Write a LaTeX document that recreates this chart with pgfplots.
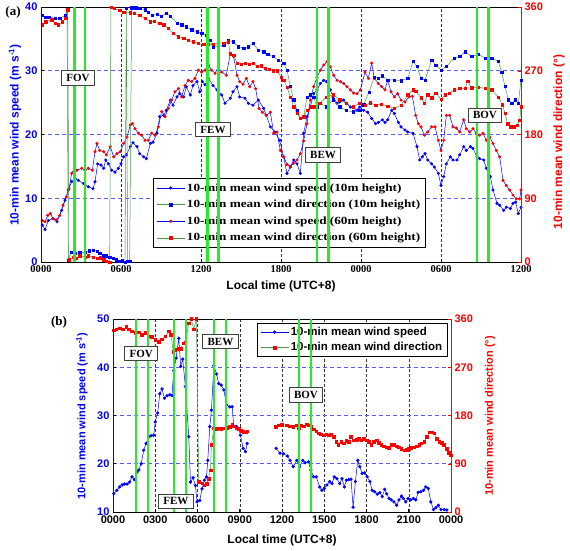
\documentclass[border=0pt]{standalone}
\usepackage{pgfplots}
\pgfplotsset{compat=1.18}
\usepackage{fontspec}
\setmainfont{Liberation Serif}
\setsansfont{Liberation Sans}
\definecolor{gline}{RGB}{70,150,70}
\definecolor{bgreen}{RGB}{40,235,40}
\definecolor{gridblue}{RGB}{90,90,255}
\newcommand{\myfs}[1]{\fontsize{#1}{#1}\selectfont}
\tikzset{lbl/.style={draw=black!75, line width=0.9pt, fill=white, inner xsep=5pt, inner ysep=3.5pt, font=\rmfamily\bfseries\myfs{11}}}
\pgfplotsset{
  spd/.style={blue, line width=0.5pt, mark=*, mark size=1.3pt, mark options={solid, fill=blue, draw=blue}},
  spdR/.style={blue, line width=0.5pt, mark=*, mark size=1.3pt, mark options={solid, fill=red, draw=red}},
  dirB/.style={gline, line width=0.5pt, mark=square*, mark size=1.15pt, mark options={solid, fill=blue, draw=blue}},
  dirR/.style={gline, line width=0.5pt, mark=square*, mark size=1.15pt, mark options={solid, fill=red, draw=red}},
  evt/.style={bgreen, line width=2.6pt, forget plot},
  pa/.style={at={(41pt,288pt)}, anchor=south west, width=480pt, height=255pt, scale only axis, xmin=0, xmax=36},
  pb/.style={at={(113pt,38pt)}, anchor=south west, width=338pt, height=193pt, scale only axis, xmin=0, xmax=24},
}
\begin{document}
\begin{tikzpicture}[x=1pt,y=1pt]
\useasboundingbox (0,0) rectangle (570,550);
%================ PANEL A =================
\begin{axis}[pa, ymin=0, ymax=40,
  xtick={0,6,...,36}, xticklabels={0000,0600,1200,1800,0000,0600,1200},
  ytick={0,10,20,30,40}, yticklabels={0,10,20,30,40},
  xtick pos=left, ytick pos=left, tick align=inside, major tick length=3pt,
  xticklabel style={font=\rmfamily\bfseries\myfs{10.5}, black},
  yticklabel style={font=\sffamily\bfseries\myfs{11}, blue},
  xmajorgrids, ymajorgrids,
  major x grid style={black!80, dash pattern=on 3pt off 2pt, line width=0.5pt},
  major y grid style={gridblue, dash pattern=on 4pt off 3pt, line width=0.6pt},
  axis line style={black, line width=0.8pt}, tick style={black, line width=0.6pt},
]
\addplot[spd] coordinates {(0.1,5.8)(0.3,5.1)(0.55,6.5)(0.9,6.8)(1.2,6.3)(1.55,8.1)(1.8,9.7)(2.05,11.3)(2.3,12.6)(2.55,13.1)(2.8,12.8)(3.2,12.3)(3.55,11.8)(3.9,11.5)(4.05,12.6)(4.25,15.4)(4.5,15.2)(4.7,14.7)(4.85,16.0)(5.05,15.4)(5.3,14.4)(5.55,14.1)(5.8,14.7)(6.0,15.4)(6.2,16.5)(6.4,16.8)(6.7,18.1)(6.9,18.7)(7.2,18.1)(7.4,17.0)(7.7,16.5)(7.9,16.2)(8.2,18.6)(8.4,18.8)(8.7,20.2)(8.9,22.8)(9.2,23.0)(9.4,23.8)(9.7,25.4)(9.9,24.6)(10.2,25.9)(10.4,26.4)(10.7,25.9)(10.9,27.5)(11.2,26.2)(11.4,27.7)(11.7,28.3)(11.9,26.7)(12.1,28.3)(12.3,27.8)(12.55,28.8)(12.9,27.7)(13.2,27.0)(13.55,26.2)(13.8,24.9)(14.2,25.7)(14.4,26.7)(14.7,27.5)(14.9,25.9)(15.3,25.7)(15.55,24.9)(15.9,24.6)(16.3,25.4)(16.7,24.1)(16.9,23.0)(17.2,21.2)(17.55,20.4)(17.9,19.1)(18.2,16.5)(18.45,13.9)(18.7,14.9)(18.95,16.0)(19.2,15.4)(19.45,13.9)(19.7,20.2)(19.95,22.8)(20.2,24.3)(20.45,26.4)(20.7,27.0)(20.95,28.0)(21.2,28.5)(21.4,28.3)(21.7,27.0)(21.9,25.9)(22.2,24.9)(22.4,25.1)(22.7,25.4)(22.9,24.9)(23.2,24.3)(23.4,24.3)(23.7,23.8)(23.9,24.3)(24.2,23.8)(24.5,23.5)(24.8,22.5)(25.1,21.7)(25.3,21.9)(25.6,22.3)(25.8,21.9)(26.0,22.3)(26.3,23.8)(26.5,23.3)(26.8,21.9)(27.0,21.2)(27.3,20.7)(27.5,20.4)(27.9,20.2)(28.2,18.1)(28.4,16.0)(28.6,16.5)(28.8,17.0)(29.0,16.0)(29.3,15.4)(29.5,14.9)(29.8,13.9)(30.0,12.0)(30.2,13.4)(30.4,15.4)(30.7,16.5)(30.9,16.0)(31.2,16.0)(31.4,16.8)(31.7,18.1)(31.9,17.5)(32.2,18.1)(32.4,17.8)(32.7,16.5)(32.9,16.2)(33.2,16.0)(33.4,14.7)(33.7,13.4)(33.9,11.3)(34.2,9.2)(34.4,8.9)(34.7,8.1)(34.9,8.6)(35.2,8.4)(35.4,9.2)(35.6,9.4)(35.8,7.6)(36.0,8.6)};
\addplot[spdR] coordinates {(0.1,6.5)(0.3,6.3)(0.5,7.3)(0.7,7.6)(0.9,6.8)(1.15,6.6)(1.4,7.3)(1.65,8.9)(1.9,10.2)(2.1,11.5)(2.3,13.9)(2.5,14.7)(2.7,14.4)(3.05,14.7)(3.3,14.4)(3.55,14.7)(3.85,14.4)(4.05,17.3)(4.2,18.6)(4.4,17.5)(4.7,17.3)(4.9,16.8)(5.2,18.1)(5.45,16.5)(5.7,17.0)(5.95,17.3)(6.2,18.6)(6.45,19.6)(6.7,21.5)(6.85,21.7)(7.05,20.9)(7.3,20.2)(7.55,19.9)(7.8,19.1)(8.05,19.1)(8.3,20.2)(8.55,19.9)(8.8,21.2)(9.05,23.6)(9.3,22.8)(9.55,24.1)(9.8,25.4)(10.05,26.7)(10.3,27.2)(10.55,25.9)(10.8,27.7)(11.05,28.5)(11.3,28.3)(11.55,28.8)(11.8,30.1)(12.05,29.8)(12.3,30.1)(12.55,30.9)(12.8,30.1)(13.05,29.6)(13.3,30.6)(13.55,29.8)(13.9,29.3)(14.2,32.7)(14.45,32.2)(14.7,29.3)(14.9,28.3)(15.15,27.9)(15.4,28.8)(15.65,27.5)(15.9,28.3)(16.1,27.2)(16.35,24.1)(16.6,23.5)(16.9,23.0)(17.2,23.5)(17.45,20.2)(17.7,20.4)(17.95,17.5)(18.2,16.5)(18.45,15.3)(18.7,15.0)(18.95,15.5)(19.2,16.0)(19.45,17.0)(19.7,19.0)(19.95,21.7)(20.2,25.4)(20.45,27.5)(20.7,29.0)(20.95,30.1)(21.2,30.9)(21.45,31.4)(21.7,30.6)(21.95,29.3)(22.2,28.5)(22.45,28.3)(22.7,28.0)(22.95,27.5)(23.2,27.0)(23.45,26.5)(23.7,26.4)(23.95,27.0)(24.3,29.8)(24.55,28.8)(24.8,31.2)(25.0,28.8)(25.3,28.0)(25.55,27.5)(25.8,27.0)(26.0,28.5)(26.25,26.7)(26.5,25.9)(26.75,26.4)(27.0,25.4)(27.3,25.1)(27.6,25.9)(27.85,26.0)(28.1,23.0)(28.3,21.7)(28.5,21.2)(28.75,19.9)(29.0,20.4)(29.3,21.2)(29.55,21.2)(29.8,19.1)(30.0,17.5)(30.2,19.1)(30.4,23.0)(30.65,23.0)(30.9,21.2)(31.15,21.0)(31.4,20.4)(31.7,22.3)(31.9,20.9)(32.15,20.4)(32.4,20.9)(32.65,20.2)(32.9,19.9)(33.15,20.2)(33.4,19.1)(33.65,19.6)(33.9,18.6)(34.15,17.5)(34.4,16.5)(34.65,12.8)(34.9,12.0)(35.15,11.3)(35.4,10.5)(35.65,9.9)(35.9,9.9)(36.0,11.3)};
\end{axis}
\begin{axis}[pa, ymin=0, ymax=360, axis y line*=right, axis x line=none,
  ytick={0,90,180,270,360}, yticklabels={0,90,180,270,360},
  tick align=inside, major tick length=3pt,
  yticklabel style={font=\sffamily\bfseries\myfs{11}, red},
  y axis line style={red, line width=1pt}, ytick style={red},
  legend cell align=left,
  legend style={at={(axis cs:8.4,20)}, anchor=south west, draw=black, line width=0.8pt, fill=white, font=\rmfamily\bfseries\myfs{11}\addfontfeatures{FakeStretch=1.2}, row sep=3.5pt, inner xsep=3pt, inner ysep=3pt},
  legend image code/.code={\draw[mark repeat=2,mark phase=2,#1] plot coordinates {(0pt,0pt) (14pt,0pt) (28pt,0pt)};},
]
\addlegendimage{spd}\addlegendentry{10-min mean wind speed (10m height)}
\addplot[dirB] coordinates {(0.1,348)(0.35,346)(0.6,346)(1.05,344)(1.4,344)(1.8,348)(1.95,355)(2.05,2)(2.25,14)(2.55,12)(2.9,13)(3.3,14)(3.6,16)(3.9,17)(4.2,15)(4.4,12)(4.65,9)(4.9,9)(5.15,7)(5.4,5)(5.65,3)(5.9,1)(6.1,2)(6.3,0)(6.4,358)(6.5,1)(6.65,1)(6.8,359)(7.1,359)(7.4,358)(7.8,356)(8.05,353)(8.35,348)(8.7,350)(9.0,347)(9.4,351)(9.7,347)(10.2,337)(10.55,335)(10.9,332)(11.3,328)(11.7,325)(12.05,323)(12.4,320)(12.65,313)(12.9,304)(13.3,304)(13.7,306)(14.05,313)(14.4,311)(14.8,304)(15.2,302)(15.55,304)(15.9,309)(16.3,299)(16.7,297)(17.0,293)(17.4,290)(17.8,285)(18.2,281)(18.45,271)(18.7,248)(18.95,229)(19.2,214)(19.45,203)(19.7,205)(19.95,233)(20.2,236)(20.45,233)(20.7,219)(20.95,224)(21.4,219)(21.9,229)(22.4,219)(22.9,214)(23.4,212)(23.9,214)(24.2,222)(24.6,240)(25.0,261)(25.3,259)(25.6,263)(26.0,257)(26.5,257)(27.0,256)(27.5,259)(27.9,283)(28.2,276)(28.5,259)(28.8,257)(29.3,285)(29.6,278)(30.0,271)(30.4,276)(31.0,288)(31.4,290)(31.8,297)(32.3,290)(32.8,293)(33.3,288)(33.8,288)(34.3,283)(34.55,268)(34.8,248)(35.05,229)(35.3,224)(35.55,229)(35.8,224)(36.0,257)};
\addlegendentry{10-min mean wind direction (10m height)}
\addlegendimage{spdR}\addlegendentry{10-min mean wind speed (60m height)}
\addplot[dirR] coordinates {(0.1,335)(0.35,339)(0.8,342)(1.05,337)(1.3,335)(1.6,339)(1.85,344)(2.0,356)(2.1,3)(2.4,7)(2.65,5)(2.9,9)(3.3,7)(3.55,9)(3.9,7)(4.2,5)(4.45,6)(4.7,3)(4.9,1)(5.15,0)(5.25,360)(5.5,358)(5.9,355)(6.2,353)(6.7,352)(7.0,351)(7.4,348)(7.8,344)(8.2,339)(8.5,340)(8.9,337)(9.2,335)(9.55,330)(9.9,323)(10.3,318)(10.7,316)(11.05,313)(11.4,311)(11.8,309)(12.2,307)(12.55,307)(12.9,307)(13.3,309)(13.7,309)(14.05,311)(14.2,294)(14.45,292)(14.7,281)(15.0,279)(15.3,281)(15.6,279)(15.9,281)(16.2,276)(16.5,277)(16.8,274)(17.1,272)(17.4,270)(17.7,270)(18.0,261)(18.2,257)(18.45,247)(18.7,233)(18.95,219)(19.2,210)(19.45,203)(19.7,205)(19.95,214)(20.2,219)(20.45,219)(20.9,224)(21.4,233)(21.9,236)(22.4,229)(22.9,224)(23.4,219)(23.9,224)(24.3,221)(24.7,225)(25.1,221)(25.5,223)(26.0,220)(26.5,217)(27.0,221)(27.5,236)(27.9,243)(28.1,241)(28.5,232)(28.75,224)(29.0,236)(29.3,232)(29.6,238)(30.0,230)(30.3,236)(30.6,238)(31.0,243)(31.4,245)(31.8,245)(32.0,255)(32.3,246)(32.8,247)(33.3,245)(33.8,243)(34.3,233)(34.6,222)(34.8,210)(35.0,195)(35.2,191)(35.45,191)(35.7,193)(35.9,200)(36.0,219)};
\addlegendentry{10-min mean wind direction (60m height)}
\end{axis}
\begin{axis}[pa, ymin=0, ymax=40, hide axis]
\addplot[evt] coordinates {(2.5,0)(2.5,40)};
\addplot[evt] coordinates {(3.3,0)(3.3,40)};
\addplot[evt] coordinates {(12.5,0)(12.5,40)};
\addplot[evt] coordinates {(13.3,0)(13.3,40)};
\addplot[evt] coordinates {(20.7,0)(20.7,40)};
\addplot[evt] coordinates {(21.55,0)(21.55,40)};
\addplot[evt] coordinates {(32.7,0)(32.7,40)};
\addplot[evt] coordinates {(33.55,0)(33.55,40)};
\node[lbl] at (axis cs:2.78,28.9) {FOV};
\node[lbl] at (axis cs:12.9,20.75) {FEW};
\node[lbl] at (axis cs:21.15,16.8) {BEW};
\node[lbl] at (axis cs:33.3,23) {BOV};
\draw[blue, line width=1pt] (rel axis cs:0,0) -- (rel axis cs:0,1);
\end{axis}
%================ PANEL B =================
\begin{axis}[pb, ymin=10, ymax=50,
  xtick={0,3,...,24}, xticklabels={0000,0300,0600,0900,1200,1500,1800,2100,0000},
  ytick={10,20,30,40,50}, yticklabels={10,20,30,40,50},
  xtick pos=left, ytick pos=left, tick align=inside, major tick length=3pt,
  xticklabel style={font=\sffamily\bfseries\myfs{11}, black},
  yticklabel style={font=\sffamily\bfseries\myfs{11}, blue},
  xmajorgrids, ymajorgrids,
  major x grid style={black!80, dash pattern=on 3pt off 2pt, line width=0.5pt},
  major y grid style={gridblue, dash pattern=on 4pt off 3pt, line width=0.6pt},
  axis line style={black, line width=0.9pt}, tick style={black, line width=0.6pt},
]
\addplot[spd, mark size=1.4pt] coordinates {(0.05,13.8)(0.28,14.5)(0.47,15.2)(0.64,15.6)(0.81,15.8)(1.0,15.8)(1.18,16.2)(1.35,17.3)(1.52,16.7)(1.71,18.3)(1.83,18.7)(2.0,20.0)(2.18,22.8)(2.35,24.2)(2.54,25.6)(2.7,25.8)(2.89,25.9)(3.0,28.7)(3.17,30.5)(3.32,34.5)(3.48,35.5)(3.65,33.6)(3.84,34.1)(4.03,34.3)(4.19,34.1)(4.31,39.3)(4.48,41.9)(4.67,46.0)(4.81,40.2)(4.95,41.7)(5.14,36.0)(5.38,25.6)(5.5,16.2)(5.69,17.1)(5.85,15.5)(5.97,12.1)(6.16,12.4)(6.32,14.8)(6.49,16.6)(6.64,17.3)(6.73,20.7)(6.87,27.7)(6.99,31.1)(7.16,40.3)(7.35,38.6)(7.51,36.6)(7.68,36.3)(7.87,35.3)(8.06,32.2)(8.29,31.8)(8.46,31.8)(8.58,27.7)(8.77,27.7)(8.93,27.3)(9.05,25.9)(9.24,23.2)(9.41,22.5)(9.53,24.2)};
\addplot[spd, mark size=1.4pt] coordinates {(11.58,23.2)(11.86,22.2)(12.1,22.1)(12.38,21.6)(12.57,20.7)(12.8,19.4)(13.05,20.7)(13.24,19.4)(13.48,20.7)(13.64,20.2)(13.88,20.4)(14.05,18.7)(14.24,17.3)(14.43,17.3)(14.67,15.2)(14.83,14.5)(15.0,14.9)(15.19,15.6)(15.38,16.3)(15.55,15.9)(15.71,17.3)(15.9,16.9)(16.1,15.9)(16.26,16.9)(16.43,15.2)(16.57,16.6)(16.74,16.7)(16.9,16.8)(17.05,11.0)(17.21,16.3)(17.38,20.7)(17.52,19.4)(17.69,18.0)(17.86,18.1)(18.05,17.3)(18.24,16.3)(18.4,14.5)(18.57,14.2)(18.76,13.7)(18.95,14.0)(19.12,13.2)(19.29,14.7)(19.43,13.8)(19.6,12.8)(19.76,12.5)(19.95,12.1)(20.14,11.4)(20.31,12.5)(20.48,13.3)(20.62,12.8)(20.79,12.1)(20.95,12.8)(21.14,12.5)(21.33,12.8)(21.5,12.5)(21.67,14.1)(21.86,14.2)(22.05,14.5)(22.21,15.2)(22.38,14.9)(22.57,12.1)(22.76,10.5)(22.93,10.9)(23.1,11.4)(23.29,10.5)(23.52,10.5)(23.71,10.4)};
\end{axis}
\begin{axis}[pb, ymin=0, ymax=360, axis y line*=right, axis x line=none,
  ytick={0,90,180,270,360}, yticklabels={0,90,180,270,360},
  tick align=inside, major tick length=3pt,
  yticklabel style={font=\sffamily\bfseries\myfs{11}, red},
  y axis line style={red, line width=1pt}, ytick style={red},
  legend cell align=left,
  legend style={at={(rel axis cs:0.99,0.98)}, anchor=north east, draw=black, line width=0.8pt, fill=white, font=\sffamily\bfseries\myfs{11.5}, row sep=1.5pt, inner xsep=3pt, inner ysep=2pt},
  legend image code/.code={\draw[mark repeat=2,mark phase=2,#1] plot coordinates {(0pt,0pt) (14pt,0pt) (28pt,0pt)};},
]
\addlegendimage{spd, mark size=1.4pt}\addlegendentry{10-min mean wind speed}
\addplot[dirR, mark size=1.3pt] coordinates {(0.05,339)(0.24,341)(0.47,343)(0.71,341)(0.95,345)(1.11,341)(1.35,337)(1.59,334)(1.82,335)(2.06,331)(2.3,334)(2.54,328)(2.77,327)(3.01,321)(3.25,318)(3.48,322)(3.72,328)(3.96,337)(4.12,331)(4.27,299)(4.43,303)(4.62,304)(4.79,304)(4.98,315)(5.14,316)(5.38,352)(5.55,360)(5.73,341)(5.92,360)(6.09,56)(6.33,54)(6.49,50)(6.64,53)(6.78,62)(6.92,78)(6.99,125)(7.16,156)(7.35,155)(7.51,156)(7.68,155)(7.87,156)(8.06,157)(8.29,159)(8.46,163)(8.58,160)(8.77,156)(8.93,155)(9.1,152)(9.24,150)(9.41,149)(9.53,151)};
\addlegendentry{10-min mean wind direction}
\addplot[dirR, mark size=1.3pt, forget plot] coordinates {(11.54,159)(11.78,162)(12.0,163)(12.33,162)(12.57,160)(12.8,159)(13.0,162)(13.2,156)(13.36,162)(13.55,160)(13.74,164)(13.9,162)(14.07,159)(14.24,154)(14.43,151)(14.6,147)(14.76,145)(14.95,143)(15.14,145)(15.3,143)(15.48,145)(15.67,140)(15.86,131)(16.0,126)(16.2,131)(16.38,128)(16.57,133)(16.74,131)(16.9,140)(17.1,134)(17.29,135)(17.45,137)(17.62,134)(17.81,137)(18.0,134)(18.17,131)(18.33,126)(18.52,131)(18.71,134)(18.88,129)(19.05,125)(19.24,123)(19.43,121)(19.6,120)(19.76,125)(19.95,125)(20.14,123)(20.31,121)(20.48,118)(20.67,115)(20.86,116)(21.0,118)(21.19,120)(21.38,121)(21.57,123)(21.74,125)(21.9,128)(22.1,131)(22.29,140)(22.45,149)(22.62,149)(22.8,147)(22.98,137)(23.17,131)(23.33,129)(23.5,125)(23.69,118)(23.86,110)(24.0,106)};
\end{axis}
\begin{axis}[pb, ymin=10, ymax=50, hide axis]
\addplot[evt, line width=2pt] coordinates {(1.66,10)(1.66,50)};
\addplot[evt, line width=2pt] coordinates {(2.49,10)(2.49,50)};
\addplot[evt, line width=2pt] coordinates {(4.36,10)(4.36,50)};
\addplot[evt, line width=2pt] coordinates {(5.19,10)(5.19,50)};
\addplot[evt, line width=2pt] coordinates {(7.16,10)(7.16,50)};
\addplot[evt, line width=2pt] coordinates {(7.99,10)(7.99,50)};
\addplot[evt, line width=2pt] coordinates {(13.2,10)(13.2,50)};
\addplot[evt, line width=2pt] coordinates {(14.05,10)(14.05,50)};
\node[lbl] at (axis cs:2.0,42.85) {FOV};
\node[lbl] at (axis cs:4.47,12.2) {FEW};
\node[lbl] at (axis cs:7.63,45.3) {BEW};
\node[lbl] at (axis cs:13.7,34.25) {BOV};
\draw[blue, line width=1pt] (rel axis cs:0,0) -- (rel axis cs:0,1);
\end{axis}
%================ LABELS =================
\node[font=\rmfamily\bfseries\myfs{13}] at (13pt,538pt) {(a)};
\node[font=\rmfamily\bfseries\myfs{13}] at (59pt,228pt) {(b)};
\node[rotate=90, blue, font=\sffamily\bfseries\myfs{12}] at (15pt,415pt) {10-min mean wind speed (m s\textsuperscript{-1})};
\node[rotate=90, red, font=\sffamily\bfseries\myfs{12}] at (559pt,408pt) {10-min mean wind direction (°)};
\node[font=\sffamily\bfseries\myfs{12}] at (281pt,264pt) {Local time (UTC+8)};
\node[rotate=90, blue, font=\sffamily\bfseries\myfs{11}] at (82pt,134pt) {10-min mean wind speed (m s\textsuperscript{-1})};
\node[rotate=90, red, font=\sffamily\bfseries\myfs{11}] at (490pt,134pt) {10-min mean wind direction (°)};
\node[font=\sffamily\bfseries\myfs{12}] at (282pt,10pt) {Local time (UTC+8)};
\end{tikzpicture}
\end{document}
